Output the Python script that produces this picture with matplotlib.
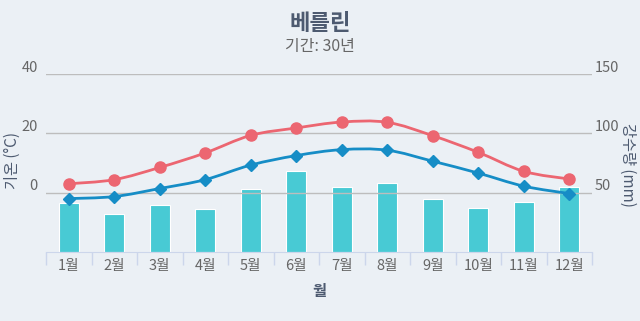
import numpy as np
import matplotlib
matplotlib.use("Agg")
from matplotlib import pyplot as plt
from matplotlib.path import Path
from matplotlib.patches import PathPatch
from matplotlib.transforms import ScaledTranslation

plt.rcParams['font.family'] = ['Noto Sans CJK KR', 'DejaVu Sans']

# Berlin monthly climate normals
months = ['1월', '2월', '3월', '4월', '5월', '6월',
          '7월', '8월', '9월', '10월', '11월', '12월']
temp_max = [3.0, 4.4, 8.5, 13.4, 19.3, 21.8, 23.8, 23.7, 19.2, 13.6, 7.2, 4.6]
temp_min = [-2.0, -1.3, 1.4, 4.4, 9.3, 12.5, 14.5, 14.3, 10.6, 6.6, 2.2, -0.3]
precip = [41, 32, 40, 36.5, 53, 68.5, 55, 58, 44.5, 37, 42.5, 55]

bg = '#ebf0f5'
red = '#ec6671'
blue = '#168dc6'
teal = '#48cad4'
grid_c = '#bdbdbd'
text_c = '#666666'
title_c = '#4d5a70'


def smooth_path(xs, ys, t=0.35):
    # cubic bezier through the points (Catmull-Rom style handles)
    xs = np.asarray(xs, float)
    ys = np.asarray(ys, float)
    n = len(xs)
    verts = [(xs[0], ys[0])]
    codes = [Path.MOVETO]
    for i in range(n - 1):
        p0 = np.array([xs[max(i - 1, 0)], ys[max(i - 1, 0)]])
        p1 = np.array([xs[i], ys[i]])
        p2 = np.array([xs[i + 1], ys[i + 1]])
        p3 = np.array([xs[min(i + 2, n - 1)], ys[min(i + 2, n - 1)]])
        c1 = p1 + (p2 - p0) * t / 2
        c2 = p2 - (p3 - p1) * t / 2
        verts += [tuple(c1), tuple(c2), tuple(p2)]
        codes += [Path.CURVE4] * 3
    return Path(verts, codes)


fig = plt.figure(figsize=(6.4, 3.21), dpi=100, facecolor=bg)
ax_p = fig.add_axes([46 / 640, 1 - 252 / 321, 546 / 640, 178 / 321])
ax_t = ax_p.twinx()
ax_p.set_facecolor(bg)

x = np.arange(len(months))

# precipitation bars on the right axis
ax_p.bar(x, precip, width=0.45, color=teal, edgecolor='white', linewidth=0.8, zorder=2)
ax_p.set_ylim(0, 150)
ax_p.set_xlim(-0.5, len(months) - 0.5)

# temperature lines on the left axis
ax_t.set_ylim(-20, 40)
for vals, col, mk, ms in [(temp_max, red, 'o', 8), (temp_min, blue, 'D', 6)]:
    ax_t.add_patch(PathPatch(smooth_path(x, vals), fill=False, edgecolor=col,
                             lw=2, zorder=3))
    ax_t.plot(x, vals, ls='', marker=mk, ms=ms, color=col, zorder=4)

# grid lines (left axis values 0, 20, 40)
for v in [0, 20, 40]:
    ax_t.axhline(v, color=grid_c, lw=1, zorder=1)

# the twin axis draws on top: move temperature ticks left, rain right
ax_t.yaxis.tick_left()
ax_p.yaxis.tick_right()

ax_t.set_yticks([0, 20, 40])
ax_p.set_yticks([50, 100, 150])
ax_t.tick_params(axis='y', length=0, pad=6, labelsize=10.5, labelcolor=text_c)
ax_p.tick_params(axis='y', length=0, pad=2, labelsize=10.5, labelcolor=text_c)

# y labels sit just above their grid lines
lift = ScaledTranslation(0, 8 / 100, fig.dpi_scale_trans)
for lab in ax_t.get_yticklabels() + ax_p.get_yticklabels():
    lab.set_transform(lab.get_transform() + lift)

for a in (ax_p, ax_t):
    for s in a.spines.values():
        s.set_visible(False)
ax_p.spines['bottom'].set_visible(True)
ax_p.spines['bottom'].set_color('#ccd6eb')

ax_p.set_xticks(x)
ax_p.set_xticklabels(months)
ax_p.set_xticks(np.arange(-0.5, len(months)), minor=True)
ax_p.tick_params(axis='x', which='major', length=0, pad=5, labelsize=10.5, labelcolor=text_c)
ax_p.tick_params(axis='x', which='minor', length=9, color='#ccd6eb', width=1)
ax_t.tick_params(axis='x', length=0)

ax_p.set_xlabel('월', fontsize=11, color=title_c, fontweight='bold', labelpad=7)

# axis titles placed by hand on both sides
fig.text(12 / 640, 1 - 160 / 321, '기온 (°C)', rotation=90, ha='center', va='center',
         fontsize=11, color=title_c)
fig.text(628 / 640, 1 - 165 / 321, '강수량 (mm)', rotation=270, ha='center', va='center',
         fontsize=11, color=title_c)

fig.text(0.5, 1 - 23 / 321, '베를린', ha='center', va='center', fontsize=16,
         fontweight='bold', color=title_c)
fig.text(0.5, 1 - 46 / 321, '기간: 30년', ha='center', va='center', fontsize=11.5,
         color=text_c)

fig.savefig('out.png', dpi=100, facecolor=bg)
